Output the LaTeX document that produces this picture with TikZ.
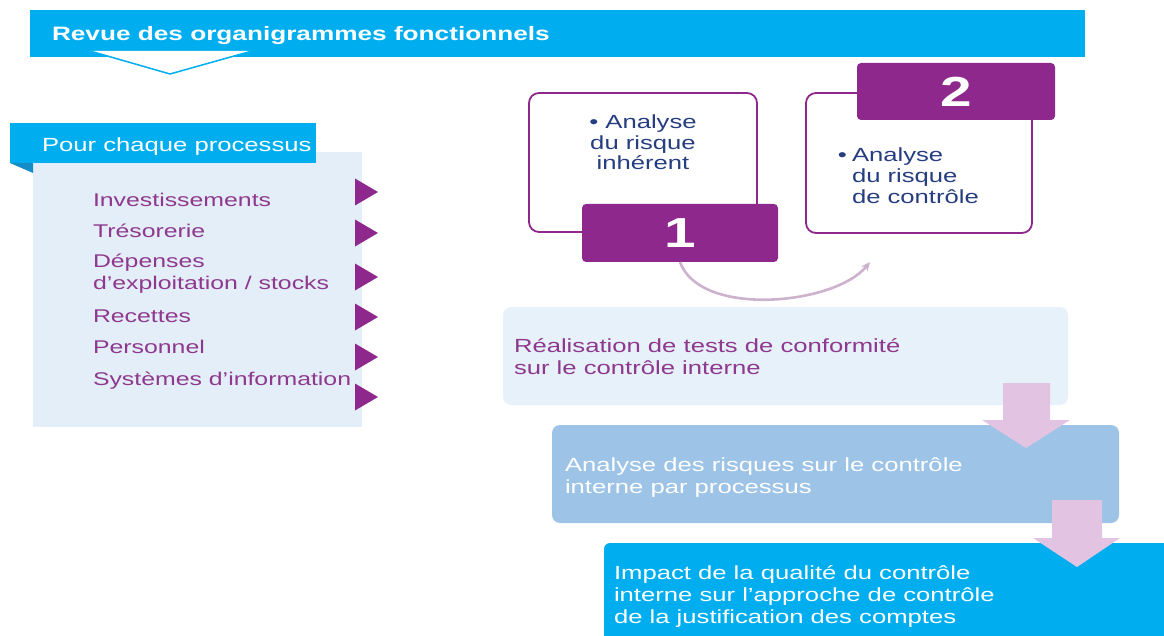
\documentclass[tikz,border=0pt]{standalone}
\usepackage{fontspec}
\setmainfont{Liberation Sans}[FakeStretch=1.35]
\usetikzlibrary{arrows.meta}
\definecolor{kcyan}{RGB}{0,174,239}
\definecolor{kpurple}{RGB}{142,40,140}
\definecolor{panel}{RGB}{228,238,248}
\definecolor{boxa}{RGB}{231,241,250}
\definecolor{boxb}{RGB}{157,195,230}
\definecolor{navy}{RGB}{38,62,128}
\definecolor{pinkarr}{RGB}{226,196,226}
\definecolor{arcc}{RGB}{205,178,205}
\definecolor{itemtxt}{RGB}{142,56,142}
\definecolor{fold}{RGB}{20,140,200}
\newcommand\fs{\fontsize{19}{22.5}\selectfont}
\newcommand\fsi{\fontsize{18.4}{22}\selectfont}
\begin{document}
\begin{tikzpicture}[x=1pt,y=-1pt,
  blk/.style={inner sep=0pt, outer sep=0pt, anchor=north west},
  txt/.style={inner sep=0pt, outer sep=0pt, anchor=base west, font=\fs},
  itm/.style={inner sep=0pt, outer sep=0pt, anchor=base west, font=\fsi, text=itemtxt},
  ctxt/.style={inner sep=0pt, outer sep=0pt, anchor=base, font=\fs},
  numbox/.style={blk, fill=kpurple, rounded corners=4pt},
  numtxt/.style={inner sep=0pt, text=white, font=\bfseries\fontsize{42}{42}\selectfont},
  framebox/.style={blk, draw=kpurple, line width=1.8pt, rounded corners=10pt, fill=white},
  tri/.style={fill=kpurple},
  blockarrow/.style={fill=pinkarr}
]
\useasboundingbox (0,0) rectangle (1164,636);

% top banner
\node[blk, fill=kcyan, minimum width=1055pt, minimum height=47pt] (banner) at (30,10) {};
\fill[white] (90,51) -- (252,51) -- (170,74) -- cycle;
\draw[kcyan, line width=1.5pt, line join=round] (90,51) -- (170,74) -- (252,51);
\node[txt, text=white, font=\bfseries\fontsize{19.4}{23}\selectfont] (title) at (52,41) {Revue des organigrammes fonctionnels};

% left panel
\node[blk, fill=panel, minimum width=329pt, minimum height=275pt] (panel) at (33,152) {};
\node[blk, fill=kcyan, minimum width=306pt, minimum height=40pt] (tab) at (10,123) {};
\fill[fold] (10,163) -- (33,163) -- (33,173) -- cycle;
\node[txt, text=white] (tabtxt) at (42,152) {Pour chaque processus};

\node[itm] (i1) at (93,207) {Investissements};
\node[itm] (i2) at (93,238) {Trésorerie};
\node[itm] (i3a) at (93,268) {Dépenses};
\node[itm] (i3b) at (93,290) {d’exploitation / stocks};
\node[itm] (i4) at (93,322) {Recettes};
\node[itm] (i5) at (93,353) {Personnel};
\node[itm] (i6) at (93,385) {Systèmes d’information};

\foreach \c in {192,233,277,317,357,397}{
  \fill[tri] (355,\c-13.5) -- (378,\c) -- (355,\c+13.5) -- cycle;
}

% box 1
\node[framebox, minimum width=228pt, minimum height=139pt] (box1) at (529,93) {};
\node[numbox, minimum width=196pt, minimum height=58pt] (one) at (582,204) {};
\node[numtxt] (onetxt) at (one.center) {1};
\node[ctxt, text=navy] (b1a) at (643,129) {\textbullet\ Analyse};
\node[ctxt, text=navy] (b1b) at (643,150) {du risque};
\node[ctxt, text=navy] (b1c) at (643,170) {inhérent};

% box 2
\node[framebox, minimum width=226pt, minimum height=140pt] (box2) at (806,93) {};
\node[numbox, minimum width=198pt, minimum height=57pt] (two) at (857,63) {};
\node[numtxt] (twotxt) at (two.center) {2};
\node[txt, text=navy] (b2a) at (852,162) {Analyse};
\node[inner sep=0pt, anchor=base east, font=\fs, text=navy] (b2bul) at ([xshift=-5pt]b2a.base west) {\textbullet};
\node[txt, text=navy] (b2b) at (852,183) {du risque};
\node[txt, text=navy] (b2c) at (852,204) {de contrôle};

% arc from 1 to 2
\coordinate (arcend) at (870,262);
\draw[arcc, line width=2.6pt, -{Stealth[length=9pt,width=8pt]}] (one.south) .. controls (700,318) and (835,305) .. (arcend);

% process boxes
\node[blk, fill=boxa, rounded corners=8pt, minimum width=565pt, minimum height=98pt] (boxA) at (503,307) {};
\node[txt, text=itemtxt] (a1) at (514,352) {Réalisation de tests de conformité};
\node[txt, text=itemtxt] (a2) at (514,374) {sur le contrôle interne};

\node[blk, fill=boxb, rounded corners=8pt, minimum width=567pt, minimum height=98pt] (boxB) at (552,425) {};
\node[txt, text=white] (bb1) at (565,471) {Analyse des risques sur le contrôle};
\node[txt, text=white] (bb2) at (565,493) {interne par processus};

\node[blk, fill=kcyan, rounded corners=6pt, minimum width=566pt, minimum height=99pt] (boxC) at (604,543) {};
\node[txt, text=white] (c1) at (614,579) {Impact de la qualité du contrôle};
\node[txt, text=white] (c2) at (614,601) {interne sur l’approche de contrôle};
\node[txt, text=white] (c3) at (614,623) {de la justification des comptes};

% block arrows
\fill[blockarrow] (1003,383) -- (1050,383) -- (1050,420) -- (1070,420) -- (1026,448) -- (982,420) -- (1003,420) -- cycle;
\fill[blockarrow] (1052,500) -- (1102,500) -- (1102,538) -- (1120,538) -- (1077,567) -- (1033,538) -- (1052,538) -- cycle;
\end{tikzpicture}
\end{document}
